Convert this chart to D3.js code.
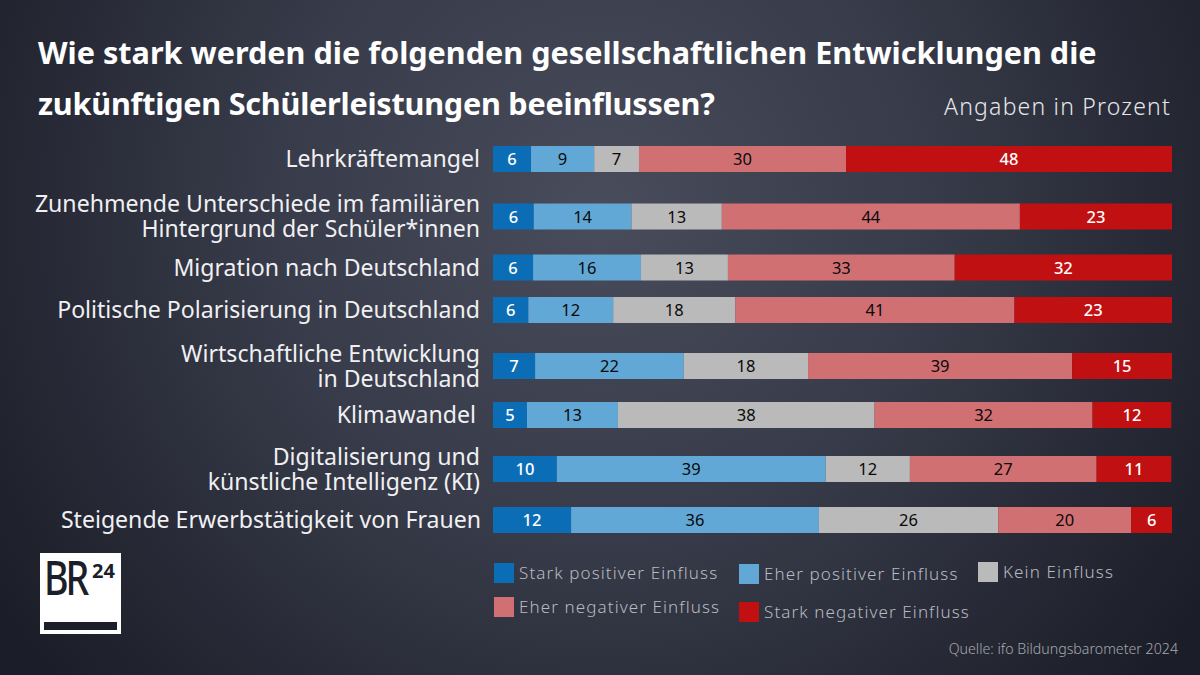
<!DOCTYPE html>
<html>
<head>
<meta charset="utf-8">
<script src="https://cdn.jsdelivr.net/npm/d3@7"></script>
<style>
  html, body { margin: 0; padding: 0; background: #1c1f29; }
  svg { display: block; }
  text { font-family: "Noto Sans", sans-serif; }
</style>
</head>
<body>
<svg id="chart"></svg>
<script>
const categories = [
  "Lehrkräftemangel",
  "Zunehmende Unterschiede im familiären\nHintergrund der Schüler*innen",
  "Migration nach Deutschland",
  "Politische Polarisierung in Deutschland",
  "Wirtschaftliche Entwicklung\nin Deutschland",
  "Klimawandel",
  "Digitalisierung und\nkünstliche Intelligenz (KI)",
  "Steigende Erwerbstätigkeit von Frauen"
];

const seriesNames = [
  "Stark positiver Einfluss",
  "Eher positiver Einfluss",
  "Kein Einfluss",
  "Eher negativer Einfluss",
  "Stark negativer Einfluss"
];

// printed numbers
const starkPositiv = [6, 6, 6, 6, 7, 5, 10, 12];
const eherPositiv = [9, 14, 16, 12, 22, 13, 39, 36];
const keinEinfluss = [7, 13, 13, 18, 18, 38, 12, 26];
const eherNegativ = [30, 44, 33, 41, 39, 32, 27, 20];
const starkNegativ = [48, 23, 32, 23, 15, 12, 11, 6];

// bar lengths as measured in the picture (unrounded shares)
const starkPositivShare = [5.6, 6.0, 5.9, 5.2, 6.2, 5.0, 9.4, 11.5];
const eherPositivShare = [9.3, 14.4, 15.9, 12.5, 21.9, 13.4, 39.6, 36.5];
const keinEinflussShare = [6.6, 13.3, 12.8, 18.0, 18.3, 37.8, 12.4, 26.4];
const eherNegativShare = [30.5, 43.9, 33.4, 41.1, 38.9, 32.1, 27.5, 19.6];
const starkNegativShare = [48.0, 22.4, 32.0, 23.2, 14.7, 11.6, 11.0, 6.0];

const printed = [starkPositiv, eherPositiv, keinEinfluss, eherNegativ, starkNegativ];
const shares = [starkPositivShare, eherPositivShare, keinEinflussShare, eherNegativShare, starkNegativShare];

const colors = ["#0b6db5", "#62a8d6", "#bababa", "#d07073", "#c01012"];
const labelColors = ["#ffffff", "#0a0a0a", "#0a0a0a", "#0a0a0a", "#ffffff"];

const width = 1200;
const height = 675;

const svg = d3.select("#chart").attr("width", width).attr("height", height);

// Background
const defs = svg.append("defs");
const bg = defs.append("radialGradient")
  .attr("id", "bg")
  .attr("gradientUnits", "userSpaceOnUse")
  .attr("cx", 600).attr("cy", 210).attr("r", 720);
bg.append("stop").attr("offset", "0%").attr("stop-color", "#484c5b");
bg.append("stop").attr("offset", "45%").attr("stop-color", "#383b49");
bg.append("stop").attr("offset", "100%").attr("stop-color", "#1b1e28");
svg.append("rect").attr("width", width).attr("height", height).attr("fill", "url(#bg)");

// Title
svg.selectAll(".title")
  .data(["Wie stark werden die folgenden gesellschaftlichen Entwicklungen die",
         "zukünftigen Schülerleistungen beeinflussen?"])
  .enter()
  .append("text")
  .attr("class", "title")
  .attr("x", 38)
  .attr("y", (d, i) => 64 + i * 51)
  .attr("font-size", 30.6)
  .attr("font-weight", 700)
  .attr("letter-spacing", (d, i) => i === 1 ? -0.23 : 0)
  .attr("fill", "#ffffff")
  .text(d => d);

svg.append("text")
  .attr("x", 1171)
  .attr("y", 115)
  .attr("text-anchor", "end")
  .attr("font-size", 23)
  .attr("letter-spacing", 1.2)
  .attr("font-weight", 300)
  .attr("fill", "#e6e6ea")
  .text("Angaben in Prozent");

// Scales
const x = d3.scaleLinear().domain([0, 100]).range([493, 1172]);
// rows are not evenly spaced in the original
const y = d3.scaleOrdinal().domain(categories).range([146, 203.5, 254.5, 297, 353, 402, 456, 507]);
const labelRight = d3.scaleOrdinal().domain(categories).range([480, 480, 480, 480, 480, 476, 480, 481]);
const barHeight = 26;

const stacked = d3.stack().keys(d3.range(5)).value((row, k) => shares[k][row])(d3.range(categories.length));

const groups = svg.selectAll(".series")
  .data(stacked)
  .enter()
  .append("g")
  .attr("class", "series")
  .attr("fill", (d, i) => colors[i]);

groups.selectAll("rect")
  .data(d => d)
  .enter()
  .append("rect")
  .attr("x", d => x(d[0]))
  .attr("y", d => y(categories[d.data]))
  .attr("width", d => x(d[1]) - x(d[0]))
  .attr("height", barHeight);

groups.each(function(s, k) {
  d3.select(this).selectAll("text")
    .data(s)
    .enter()
    .append("text")
    .attr("x", d => (x(d[0]) + x(d[1])) / 2)
    .attr("y", d => y(categories[d.data]) + barHeight / 2 + 6)
    .attr("text-anchor", "middle")
    .attr("font-size", 16.5)
    .attr("font-weight", k === 0 || k === 4 ? 500 : 400)
    .attr("fill", labelColors[k])
    .text(d => printed[k][d.data]);
});

// Category labels
const catGroups = svg.selectAll(".cat")
  .data(categories)
  .enter()
  .append("text")
  .attr("class", "cat")
  .attr("text-anchor", "end")
  .attr("font-size", 23.1)
  .attr("fill", "#f0f0f3");

catGroups.selectAll("tspan")
  .data(d => d.split("\n").map(line => ({ line, cat: d, n: d.split("\n").length })))
  .enter()
  .append("tspan")
  .attr("x", d => labelRight(d.cat))
  .attr("y", (d, i) => y(d.cat) + barHeight / 2 + 8 + (i - (d.n - 1) / 2) * 25)
  .text(d => d.line);

// Legend
const legendPos = d3.scaleOrdinal().domain(seriesNames).range([[494, 563], [739, 564], [978, 562], [494, 597], [739, 602]]);

const legend = svg.selectAll(".legend")
  .data(seriesNames)
  .enter()
  .append("g")
  .attr("class", "legend")
  .attr("transform", d => `translate(${legendPos(d)})`);

legend.append("rect")
  .attr("width", 20)
  .attr("height", 20)
  .attr("fill", (d, i) => colors[i]);

legend.append("text")
  .attr("x", 25)
  .attr("y", 16)
  .attr("font-size", 17)
  .attr("letter-spacing", 1.1)
  .attr("font-weight", 300)
  .attr("fill", "#b8bac1")
  .text(d => d);

// Source
svg.append("text")
  .attr("x", 1178)
  .attr("y", 654)
  .attr("text-anchor", "end")
  .attr("font-size", 14.2)
  .attr("font-weight", 300)
  .attr("fill", "#a6a8af")
  .text("Quelle: ifo Bildungsbarometer 2024");

// Logo
const logo = svg.append("g").attr("transform", "translate(40,553)");
logo.append("rect").attr("width", 81).attr("height", 81).attr("fill", "#ffffff");
logo.append("rect").attr("x", 4).attr("y", 69).attr("width", 73).attr("height", 8).attr("fill", "#1c1f29");
logo.append("text")
  .attr("transform", "translate(4,42) scale(0.8,1)")
  .attr("font-size", 47)
  .attr("font-weight", 500)
  .attr("letter-spacing", -4)
  .attr("fill", "#1c1f29")
  .text("BR");
logo.append("text")
  .attr("x", 52).attr("y", 25)
  .attr("font-size", 20)
  .attr("font-weight", 700)
  .attr("fill", "#1c1f29")
  .text("24");
</script>
</body>
</html>
